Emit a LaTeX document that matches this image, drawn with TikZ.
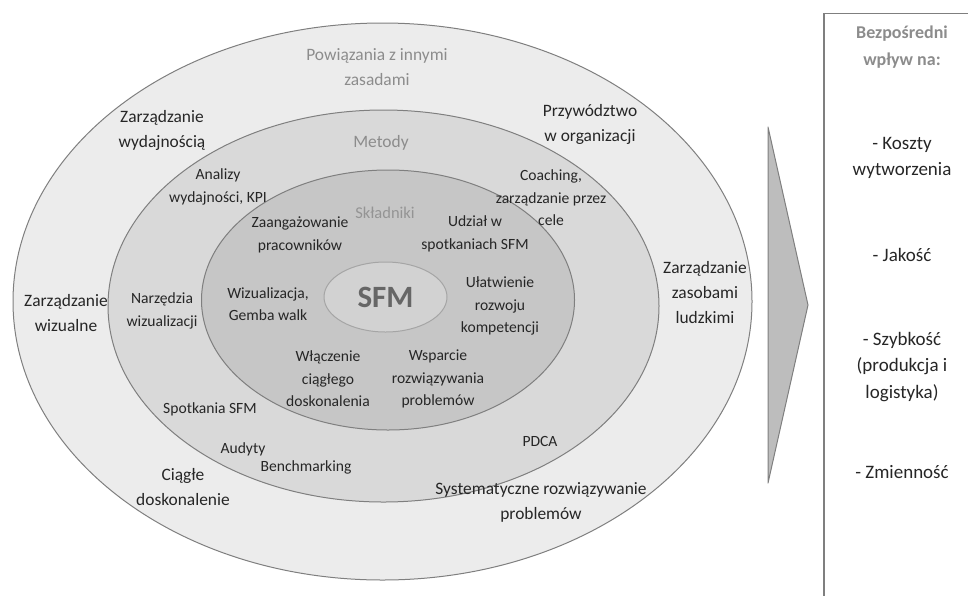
\documentclass[tikz,border=0pt]{standalone}
\usepackage{fontspec}
\setmainfont{Carlito}
\usetikzlibrary{shapes.geometric}
\definecolor{ringline}{HTML}{7F7F7F}
\definecolor{outerfill}{HTML}{ECECEC}
\definecolor{midfill}{HTML}{D9D9D9}
\definecolor{innerfill}{HTML}{C6C6C6}
\definecolor{corefill}{HTML}{D2D2D2}
\definecolor{ink}{HTML}{262626}
\definecolor{softgray}{HTML}{8C8C8C}
\begin{document}
\begin{tikzpicture}[x=1pt,y=-1pt,
		ring node/.style = {ellipse,draw=ringline,line width=1pt,inner sep=0pt},
		big label/.style = {align=center,text=ink,font=\fontsize{17.4}{25}\selectfont},
		small label/.style = {align=center,text=ink,font=\fontsize{15.6}{22.5}\selectfont},
		layer label/.style = {align=center,text=softgray},
		box label/.style = {align=center,text=ink,font=\fontsize{19}{26.5}\selectfont}]
	\useasboundingbox (0,0) rectangle (968,595);
	
	% rings
	\node[ring node,fill=outerfill,minimum width=739pt,minimum height=557pt] (outer) at (382.5,301.5) {};
	\node[ring node,fill=midfill,minimum width=551pt,minimum height=392pt] (middle) at (383.5,306) {};
	\node[ring node,fill=innerfill,minimum width=373pt,minimum height=260pt] (inner) at (388,300) {};
	\node[ring node,draw=ringline!70,fill=corefill,minimum width=123pt,minimum height=70pt] (core) at (385.5,297) {};
	\node[text=black!60,font=\fontsize{31}{31}\selectfont\bfseries] (sfm) at (core) {SFM};
	
	% outer ring
	\node[layer label,font=\fontsize{17.4}{25}\selectfont] (links) at (377,67) {Powiązania z innymi\\zasadami};
	\node[big label] (perf) at (162,130) {Zarządzanie\\wydajnością};
	\node[big label] (lead) at (590,124) {Przywództwo\\w organizacji};
	\node[big label] (visual) at (66,313) {Zarządzanie\\wizualne};
	\node[big label] (hr) at (705,293) {Zarządzanie\\zasobami\\ludzkimi};
	\node[big label] (kaizen) at (183,487) {Ciągłe\\doskonalenie};
	\node[big label] (solve) at (541,502) {Systematyczne rozwiązywanie\\problemów};
	
	% middle ring
	\node[layer label,font=\fontsize{17.4}{25}\selectfont] (methods) at (381,143) {Metody};
	\node[small label] (kpi) at (218,187) {Analizy\\wydajności, KPI};
	\node[small label] (coach) at (551,198) {Coaching,\\zarządzanie przez\\cele};
	\node[small label] (tools) at (162,311) {Narzędzia\\wizualizacji};
	\node[small label] (meet) at (210,409) {Spotkania SFM};
	\node[small label] (audit) at (243,449) {Audyty};
	\node[small label] (bench) at (306,467) {Benchmarking};
	\node[small label] (pdca) at (540,441) {PDCA};
	
	% inner ring
	\node[layer label,text=black!42,font=\fontsize{16.5}{22.5}\selectfont] (parts) at (385,213) {Składniki};
	\node[small label] (engage) at (300,235) {Zaangażowanie\\pracowników};
	\node[small label] (share) at (475,234) {Udział w\\spotkaniach SFM};
	\node[small label] (gemba) at (268,304) {Wizualizacja,\\Gemba walk};
	\node[small label] (skills) at (500,306) {Ułatwienie\\rozwoju\\kompetencji};
	\node[small label] (improve) at (328,379) {Włączenie\\ciągłego\\doskonalenia};
	\node[small label] (support) at (438,379) {Wsparcie\\rozwiązywania\\problemów};
	
	% arrow and impact box
	\coordinate (a1) at (768,127);
	\coordinate (a2) at (808,305);
	\coordinate (a3) at (768,483);
	\draw[ringline,fill=black!26,line width=1pt,line join=round] (a1) -- (a2) -- (a3) -- cycle;
	\coordinate (b1) at (970,13.5);
	\coordinate (b2) at (824,13.5);
	\coordinate (b3) at (824,597);
	\draw[ringline,line width=1.2pt] (b1) -- (b2) -- (b3);
	
	\node[layer label,font=\fontsize{18}{27}\selectfont\bfseries] (head) at (902,47) {Bezpośredni\\wpływ na:};
	\node[box label] (cost) at (902,158) {- Koszty\\wytworzenia};
	\node[box label] (quality) at (902,255) {- Jakość};
	\node[box label] (speed) at (902,367) {- Szybkość\\(produkcja i\\logistyka)};
	\node[box label] (var) at (902,472) {- Zmienność};
\end{tikzpicture}
\end{document}
